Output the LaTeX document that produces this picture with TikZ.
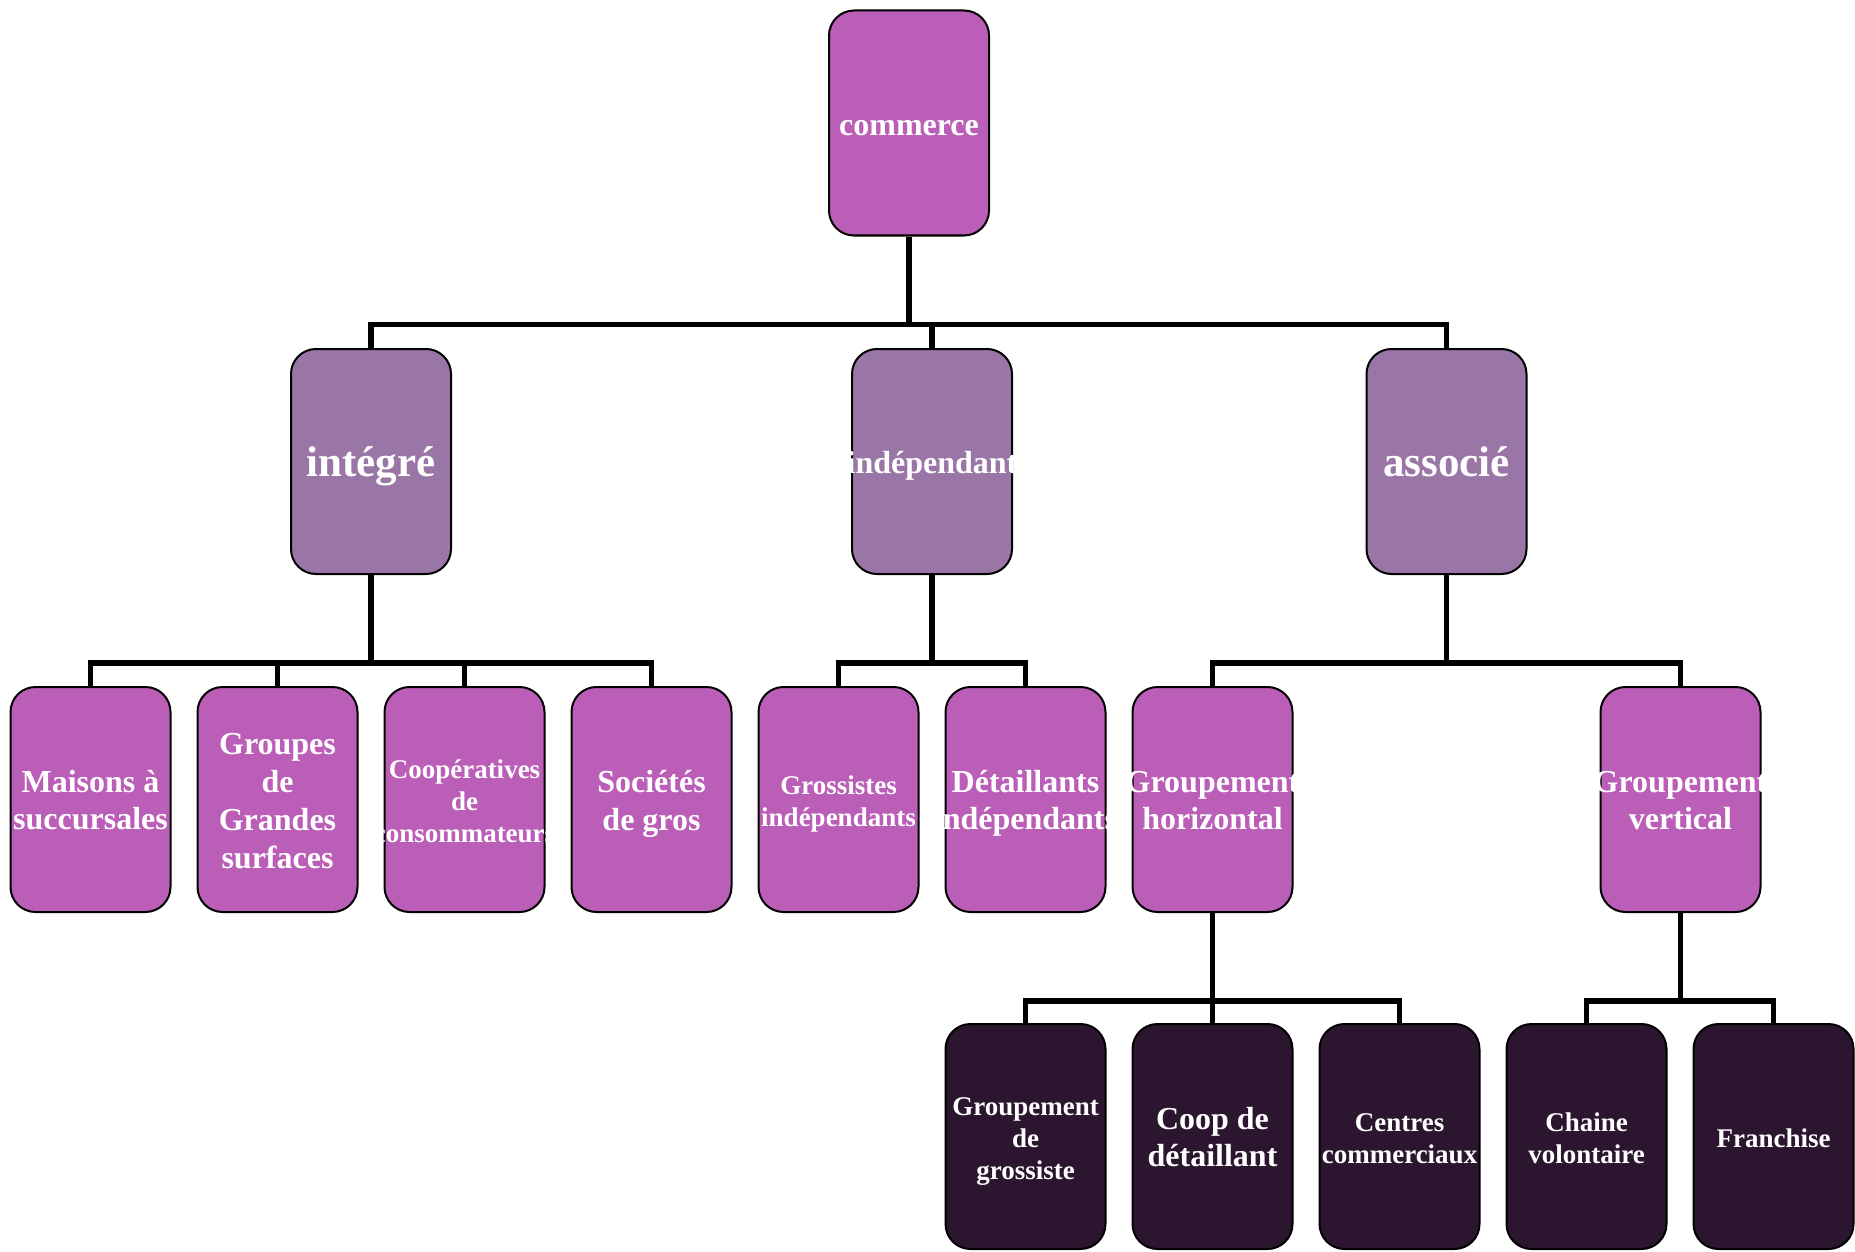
\documentclass[tikz,border=0pt]{standalone}
\usepackage{fontspec}
\setmainfont{Liberation Serif}
\definecolor{orchid}{HTML}{BB5EB8}
\definecolor{mauve}{HTML}{9A76A6}
\definecolor{aubergine}{HTML}{2C152E}
\newcommand{\card}[1]{\makebox[0pt]{\raisebox{0pt}[\dimexpr\height+9pt\relax]{\begin{tabular}{@{}c@{}}#1\end{tabular}}}}
\begin{document}
\begin{tikzpicture}[x=1pt,y=-1pt,
    box/.style={draw=black,line width=2pt,rounded corners=25pt,minimum width=160pt,minimum height=225pt,inner sep=0pt,text=white},
    top/.style={box,fill=orchid},
    mid/.style={box,fill=mauve},
    leaf/.style={box,fill=orchid},
    base/.style={box,fill=aubergine},
    fs/.style 2 args={font=\bfseries\fontsize{#1}{#2}\selectfont},
    link/.style={line width=5.5pt}]
\useasboundingbox (0,0) rectangle (1855,1252);

\node[top,fs={32}{40}] (commerce) at (909,123) {\card{commerce}};

\node[mid,fs={43}{52}] (integre) at (371,461.5) {\card{intégré}};
\node[mid,fs={32}{38}] (independant) at (932,461.5) {\card{indépendant}};
\node[mid,fs={43}{52}] (associe) at (1446.5,461.5) {\card{associé}};

\node[leaf,fs={32}{37}] (maisons) at (90.5,799.5) {\card{Maisons à\\succursales}};
\node[leaf,fs={32}{38}] (groupes) at (277.5,799.5) {\card{Groupes\\de\\Grandes\\surfaces}};
\node[leaf,fs={27}{32}] (coop) at (464.5,799.5) {\card{Coopératives\\de\\consommateurs}};
\node[leaf,fs={32}{38}] (societes) at (651.5,799.5) {\card{Sociétés\\de gros}};
\node[leaf,fs={27}{32}] (grossistes) at (838.5,799.5) {\card{Grossistes\\indépendants}};
\node[leaf,fs={32}{37}] (detaillants) at (1025.5,799.5) {\card{Détaillants\\indépendants}};
\node[leaf,fs={32}{37}] (ghoriz) at (1212.5,799.5) {\card{Groupement\\horizontal}};
\node[leaf,fs={32}{37}] (gvert) at (1680.5,799.5) {\card{Groupement\\vertical}};

\node[base,fs={27}{32}] (ggross) at (1025.5,1136.5) {\card{Groupement\\de\\grossiste}};
\node[base,fs={32}{37}] (cdet) at (1212.5,1136.5) {\card{Coop de\\détaillant}};
\node[base,fs={27}{32}] (centres) at (1399.5,1136.5) {\card{Centres\\commerciaux}};
\node[base,fs={27}{32}] (chaine) at (1586.5,1136.5) {\card{Chaine\\volontaire}};
\node[base,fs={27}{32}] (franchise) at (1773.5,1136.5) {\card{Franchise}};

\foreach \c in {integre,independant,associe}
    \draw[link] (commerce.south) -- ++(0,88) -| (\c.north);
\foreach \c in {maisons,groupes,coop,societes}
    \draw[link] (integre.south) -- ++(0,88) -| (\c.north);
\foreach \c in {grossistes,detaillants}
    \draw[link] (independant.south) -- ++(0,88) -| (\c.north);
\foreach \c in {ghoriz,gvert}
    \draw[link] (associe.south) -- ++(0,88) -| (\c.north);
\foreach \c in {ggross,cdet,centres}
    \draw[link] (ghoriz.south) -- ++(0,88) -| (\c.north);
\foreach \c in {chaine,franchise}
    \draw[link] (gvert.south) -- ++(0,88) -| (\c.north);
\end{tikzpicture}
\end{document}
